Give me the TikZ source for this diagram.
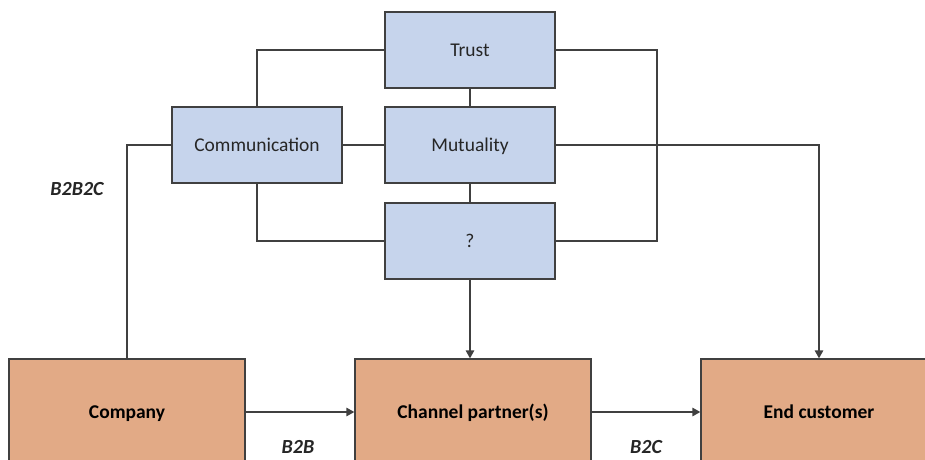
\documentclass[tikz,border=0pt]{standalone}
\usepackage{fontspec}
\setmainfont{Carlito}
\usetikzlibrary{arrows.meta}
\definecolor{factorfill}{HTML}{C6D4EC}
\definecolor{actorfill}{HTML}{E2AA86}
\definecolor{edge}{HTML}{404040}
\begin{document}
\begin{tikzpicture}[x=1pt,y=-1pt,
  factor/.style={draw=edge, line width=1.3pt, fill=factorfill,
    minimum width=170pt, minimum height=76pt, inner sep=0pt,
    text height=17pt, text depth=4pt,
    font=\fontsize{19.5}{23}\selectfont, text=black!85},
  actor/.style={draw=edge, line width=1.3pt, fill=actorfill,
    minimum width=236pt, minimum height=106pt, inner sep=0pt,
    text height=17pt, text depth=4pt,
    font=\fontsize{19.5}{23}\selectfont\bfseries},
  link/.style={draw=edge, line width=1.3pt},
  flow/.style={link, -{Triangle[length=8pt,width=8.5pt]}},
  tag/.style={font=\fontsize{20}{24}\selectfont\itshape\bfseries, text=black!85}]
\useasboundingbox (0,0) rectangle (925,459);
\clip (0,0) rectangle (925,459);

% relationship factors
\node[factor] (trust)   at (470,50)  {Trust};
\node[factor] (mutual)  at (470,145) {Mutuality};
\node[factor] (unknown) at (470,241) {?};
\node[factor] (comm)    at (257,145) {Communication};

% actors in the channel
\node[actor] (company) at (127,412) {Company};
\node[actor] (channel) at (473,412) {Channel partner(s)};
\node[actor] (endc)    at (819,412) {End customer};

% connections between the factors
\coordinate (loop) at (657,50);
\draw[link] (trust.west) -| (comm.north);
\draw[link] (trust.south) -- (mutual.north);
\draw[link] (mutual.south) -- (unknown.north);
\draw[link] (comm.east) -- (mutual.west);
\draw[link] (comm.south) |- (unknown.west);
\draw[link] (trust.east) -- (loop) |- (unknown.east);

% influence on the actors
\draw[flow] (mutual.east) -| (endc.north);
\draw[flow] (unknown.south) -- (unknown.south |- channel.north);
\draw[link] (comm.west) -| (company.north);
\draw[flow] (company.east) -- (channel.west);
\draw[flow] (channel.east) -- (endc.west);

% channel labels
\node[tag] (b2b2c) at (77,189) {B2B2C};
\node[tag] (b2b)   at (298,447) {B2B};
\node[tag] (b2c)   at (646,447) {B2C};
\end{tikzpicture}
\end{document}
